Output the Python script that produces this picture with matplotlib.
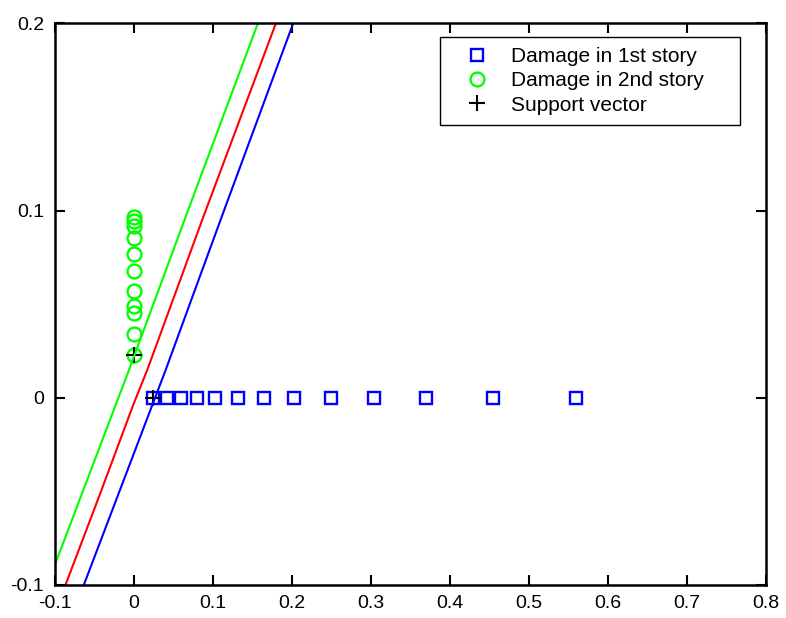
import numpy as np
import matplotlib
matplotlib.use("Agg")
import matplotlib.pyplot as plt

plt.rcParams['font.family'] = ['Liberation Sans', 'DejaVu Sans']

# Damage points
story1_x = [0.024, 0.042, 0.060, 0.080, 0.103, 0.132, 0.165, 0.203, 0.249,
            0.304, 0.370, 0.454, 0.560]
story1_y = [0.0] * len(story1_x)
story2_x = [0.0] * 11
story2_y = [0.0968, 0.0943, 0.0915, 0.0855, 0.0766, 0.0676, 0.0571, 0.0489,
            0.0454, 0.0340, 0.0229]
support_x = [0.024, 0.0]
support_y = [0.0, 0.0229]

# Decision boundary and margins
green_x = [-0.1009, -0.0063, 0.0662, 0.1566]
green_y = [-0.090, 0.0149, 0.0976, 0.1998]
red_x = [-0.0865, -0.0443, 0.0, 0.0168, 0.0886, 0.1794]
red_y = [-0.0997, -0.0528, -0.0027, 0.0149, 0.0976, 0.1998]
blue_x = [-0.0633, 0.0401, 0.1118, 0.2013]
blue_y = [-0.0997, 0.0149, 0.0976, 0.1998]

fig = plt.figure(figsize=(7.86, 6.18), dpi=100)
ax = fig.add_axes([0.070, 0.0534, 0.9046, 0.9089])

ax.plot(story1_x, story1_y, 's', mfc='none', mec='#0000ff', ms=9, mew=1.7,
        label='Damage in 1st story')
ax.plot(story2_x, story2_y, 'o', mfc='none', mec='#00ff00', ms=10, mew=1.7,
        label='Damage in 2nd story')
ax.plot(support_x, support_y, '+', color='black', ms=11, mew=1.5,
        label='Support vector')

ax.plot(green_x, green_y, color='#00ff00', lw=1.5)
ax.plot(red_x, red_y, color='#ff0000', lw=1.5)
ax.plot(blue_x, blue_y, color='#0000ff', lw=1.5)

ax.set_xlim(-0.1, 0.8)
ax.set_ylim(-0.1, 0.2)
xt = [-0.1, 0, 0.1, 0.2, 0.3, 0.4, 0.5, 0.6, 0.7, 0.8]
ax.set_xticks(xt)
ax.set_xticklabels(['-0.1', '0', '0.1', '0.2', '0.3', '0.4', '0.5', '0.6', '0.7', '0.8'])
ax.set_yticks([-0.1, 0, 0.1, 0.2])
ax.set_yticklabels(['-0.1', '0', '0.1', '0.2'])
ax.tick_params(direction='in', length=7, width=1.5, labelsize=14,
               top=True, right=True)
ax.tick_params(axis='y', pad=8)
ax.tick_params(axis='x', pad=7)
for s in ax.spines.values():
    s.set_linewidth(1.8)

# legend box spans roughly x 440-740 px, y 37-120 px
leg = ax.legend(loc='upper left', bbox_to_anchor=(0.541, 0.843, 0.422, 0.133),
                mode='expand', fontsize=15,
                fancybox=False, framealpha=1, edgecolor='black',
                borderpad=0.5, labelspacing=0.25, handletextpad=0.3,
                handlelength=2.6, borderaxespad=0)
leg.get_frame().set_linewidth(1.0)

fig.savefig('out.png', dpi=100)
